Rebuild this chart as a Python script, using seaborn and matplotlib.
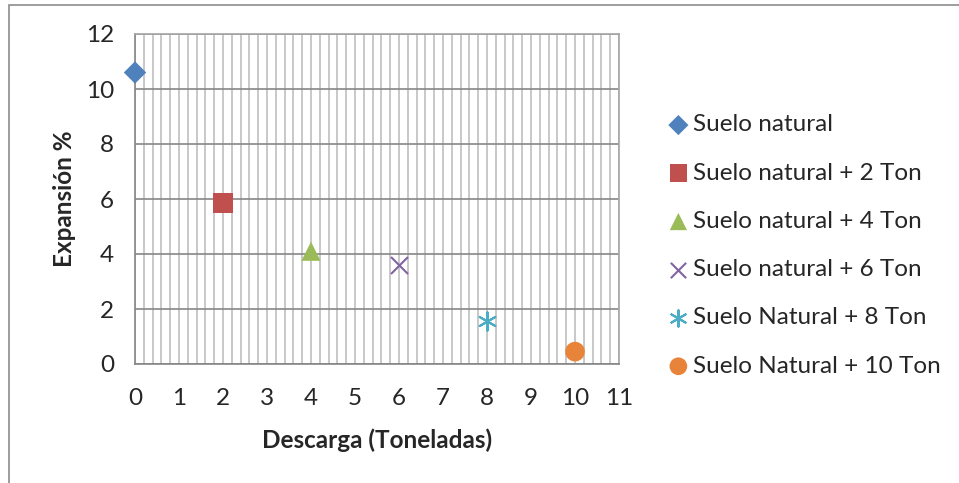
import pandas as pd
import seaborn as sns
import matplotlib.pyplot as plt
import numpy as np
from matplotlib.patches import Rectangle
from matplotlib.ticker import MultipleLocator

# Data
series = ['Suelo natural', 'Suelo natural + 2 Ton', 'Suelo natural + 4 Ton',
          'Suelo natural + 6 Ton', 'Suelo Natural + 8 Ton', 'Suelo Natural + 10 Ton']
descarga = [0, 2, 4, 6, 8, 10]
expansion = [10.6, 5.85, 4.1, 3.6, 1.55, 0.45]

colors = ['#4F81BD', '#C0504D', '#9BBB59', '#8064A2', '#4BACC6', '#E8843A']
markers = ['D', 's', '^', 'x', (6, 2, 0), 'o']
sizes = [130, 200, 190, 150, 170, 200]

df = pd.DataFrame({'serie': series, 'descarga': descarga, 'expansion': expansion})

sns.set_style('white')
plt.rcParams['font.family'] = ['Lato', 'DejaVu Sans']

fig = plt.figure(figsize=(9.59, 4.83), dpi=100)
ax = fig.add_axes([135 / 959, 1 - 364 / 483, (619 - 135) / 959, (364 - 34) / 483])

# outer chart frame
fig.patches.append(Rectangle((9 / 959, -0.1), 1.2, 1.1 - 5 / 483, transform=fig.transFigure,
                             fill=False, edgecolor='#8c8c8c', linewidth=1.2))

for i, row in df.iterrows():
    filled = markers[i] not in ('x', (6, 2, 0))
    sns.scatterplot(x=[row['descarga']], y=[row['expansion']], ax=ax, marker=markers[i],
                    s=sizes[i], color=colors[i], label=row['serie'],
                    edgecolor='none' if filled else None,
                    linewidth=0 if filled else 1.5, zorder=3, clip_on=False)

ax.set_xlim(0, 11)
ax.set_ylim(0, 12)
ax.xaxis.set_major_locator(MultipleLocator(1))
ax.xaxis.set_minor_locator(MultipleLocator(0.2))
ax.yaxis.set_major_locator(MultipleLocator(2))
ax.grid(which='major', axis='y', color='#868686', linewidth=1.2)
ax.grid(which='both', axis='x', color='#bfbfbf', linewidth=1.2)
ax.set_axisbelow(True)
for sp in ax.spines.values():
    sp.set_color('#a6a6a6')
    sp.set_linewidth(1.2)
ax.spines['left'].set_color('#868686')
ax.spines['bottom'].set_color('#868686')
ax.tick_params(which='both', length=0, labelsize=17.5)
ax.tick_params(axis='x', pad=17)
ax.tick_params(axis='y', pad=15)

ax.set_xlabel('Descarga (Toneladas)', fontsize=17.5, fontweight='bold', labelpad=14)
ax.set_ylabel('Expansión %', fontsize=17.5, fontweight='bold', labelpad=7)

leg = ax.legend(loc='center left', bbox_to_anchor=(1.08, 0.359), frameon=False, fontsize=17.5,
                handletextpad=0.15, labelspacing=1.12, borderaxespad=0, handlelength=0.9,
                markerscale=0.9)

fig.savefig('out.png', dpi=100)
